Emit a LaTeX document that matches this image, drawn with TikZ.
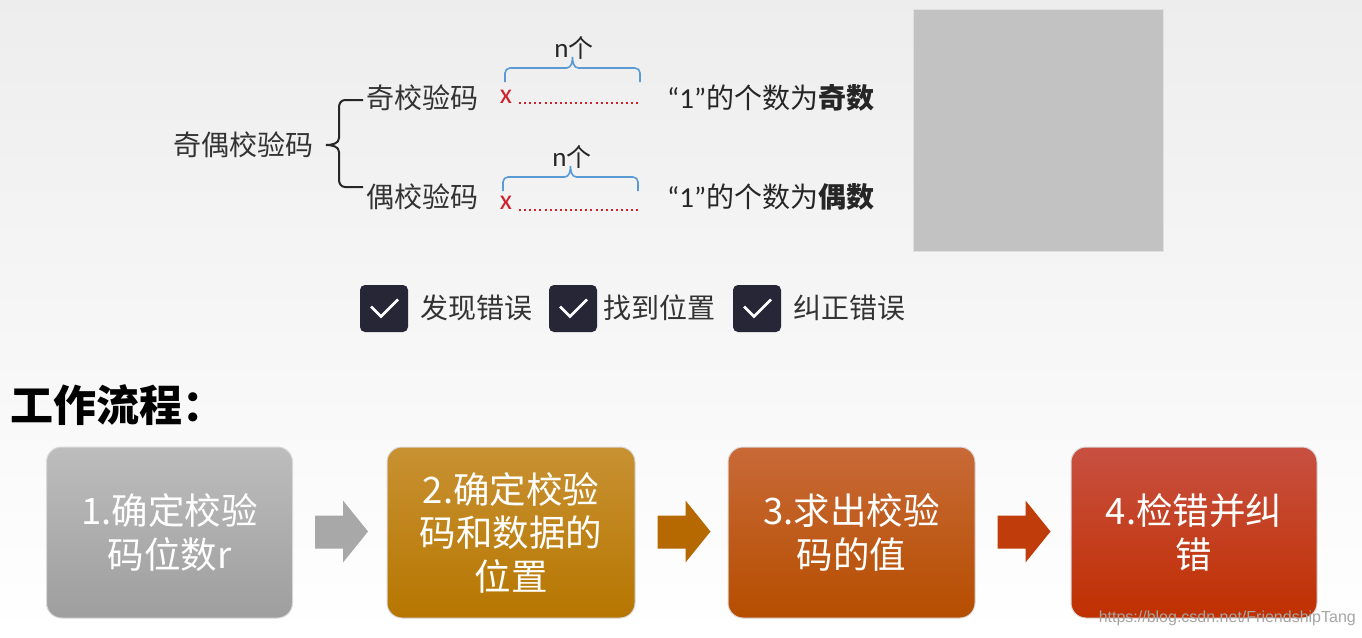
\documentclass[tikz,border=0pt]{standalone}
\usepackage{fontspec}
\setmainfont{Noto Sans CJK SC}
\newfontfamily\lat{Carlito}
\newfontfamily\wmfont{Liberation Sans}
\usetikzlibrary{calc}
\definecolor{ckbg}{HTML}{262637}
\definecolor{bracebl}{HTML}{5B9BD5}
\definecolor{redx}{HTML}{D0202A}
\definecolor{goldtop}{RGB}{200,145,50}
\definecolor{goldbot}{RGB}{182,118,0}
\definecolor{orgtop}{RGB}{200,105,55}
\definecolor{orgbot}{RGB}{182,78,0}
\definecolor{redtop}{RGB}{200,80,65}
\definecolor{redbot}{RGB}{192,48,0}
\definecolor{arrA}{RGB}{168,168,168}
\definecolor{arrB}{RGB}{182,105,0}
\definecolor{arrC}{RGB}{192,60,10}
\tikzset{
  lbl/.style={inner sep=0pt, font=\fontsize{28}{30}\selectfont, text=black!80},
  ckbox/.style={fill=ckbg, rounded corners=5pt, minimum width=48pt, minimum height=47pt, inner sep=0pt},
  ckmark/.style={white, line width=2.6pt},
  flowbox/.style={rounded corners=15pt, minimum width=246pt, minimum height=171pt, inner sep=0pt,
    align=center, text=white, font=\fontsize{36.5}{43.5}\selectfont, draw=white!70!gray, line width=1pt},
  bline/.style={draw=bracebl, line width=1.6pt},
  reddots/.style={redx, line width=2pt, dash pattern=on 2pt off 3.1pt},
}
\begin{document}
\begin{tikzpicture}[x=1pt,y=-1pt]
\useasboundingbox (0,0) rectangle (1362,637);
\shade[top color=black!7, bottom color=white] (0,0) rectangle (1362,637);

% gray rectangle
\node[fill=black!24, draw=black!12, line width=1pt, minimum width=250pt, minimum height=242pt, inner sep=0pt] (img) at (1038,130) {};

% tree
\node[lbl, anchor=east] (par) at (314,145) {奇偶校验码};
\node[lbl, anchor=west] (odd) at (366,98) {奇校验码};
\node[lbl, anchor=west] (even) at (366,197) {偶校验码};
\draw[line width=2pt, black!85]
  ($(odd.west)+(-3,2)$) -- ++(-18,0) to[out=180,in=90] ++(-6,7)
  -- ($(par.east)+(25,-7)$) to[out=-90,in=0] ($(par.east)+(12,0)$)
  to[out=0,in=90] ($(par.east)+(25,7)$)
  -- ($(even.west)+(-27,-17)$) to[out=-90,in=180] ++(6,7) -- ++(18,0);

% odd row
\node[inner sep=0pt, text=redx, font=\lat\fontsize{28}{30}\selectfont] (x1) at (506,97) {x};
\coordinate (d1s) at (519,103);
\coordinate (d1e) at (641,103);
\draw[reddots] (d1s) -- (d1e);
\coordinate (b1s) at (505,82);
\coordinate (b1e) at (640,82);
\coordinate (b1m) at ($(b1s)!.5!(b1e)$);
\draw[bline] (b1s) -- ++(0,-9) to[out=90,in=180] ++(5,-5) -- ($(b1m)+(-6,-14)$)
  to[out=0,in=-90] ($(b1m)+(0,-25)$) to[out=-90,in=180] ($(b1m)+(6,-14)$)
  -- ($(b1e)+(-5,-14)$) to[out=0,in=90] ($(b1e)+(0,-9)$) -- (b1e);
\node[inner sep=0pt, font=\fontsize{25}{27}\selectfont, text=black!85] (n1) at (574,48) {{\lat\fontsize{27}{27}\selectfont n}个};
\node[lbl, anchor=west, text=black!85] (r1) at (667,98) {{\lat\fontsize{29}{30}\selectfont “1”}的个数为\textbf{奇数}};

% even row
\node[inner sep=0pt, text=redx, font=\lat\fontsize{28}{30}\selectfont] (x2) at (506,203) {x};
\coordinate (d2s) at (519,210);
\coordinate (d2e) at (641,210);
\draw[reddots] (d2s) -- (d2e);
\coordinate (b2s) at (503,191);
\coordinate (b2e) at (638,191);
\coordinate (b2m) at ($(b2s)!.5!(b2e)$);
\draw[bline] (b2s) -- ++(0,-9) to[out=90,in=180] ++(5,-5) -- ($(b2m)+(-6,-14)$)
  to[out=0,in=-90] ($(b2m)+(0,-25)$) to[out=-90,in=180] ($(b2m)+(6,-14)$)
  -- ($(b2e)+(-5,-14)$) to[out=0,in=90] ($(b2e)+(0,-9)$) -- (b2e);
\node[inner sep=0pt, font=\fontsize{25}{27}\selectfont, text=black!85] (n2) at (572,157) {{\lat\fontsize{27}{27}\selectfont n}个};
\node[lbl, anchor=west, text=black!85] (r2) at (667,197) {{\lat\fontsize{29}{30}\selectfont “1”}的个数为\textbf{偶数}};

% checkboxes
\foreach \n/\x/\t/\tx in {c1/384/发现错误/420, c2/573/找到位置/603, c3/757/纠正错误/793}{
  \node[ckbox] (\n) at (\x,308.5) {};
  \draw[ckmark] ($(\n.center)+(-13,-2)$) -- ($(\n.center)+(-3,8)$) -- ($(\n.center)+(14,-9)$);
  \node[lbl, anchor=west] (\n t) at (\tx,308) {\t};
}

% title
\node[inner sep=0pt, anchor=west, font=\bfseries\fontsize{43}{46}\selectfont, text=black] (ttl) at (10,405) {工作流程：};

% flow boxes
\node[flowbox, top color=black!26, bottom color=black!38] (f1) at (169.5,532.5) {1.确定校验\\码位数r};
\node[flowbox, minimum width=248pt, top color=goldtop, bottom color=goldbot] (f2) at (511,532.5) {2.确定校验\\码和数据的\\位置};
\node[flowbox, minimum width=247pt, top color=orgtop, bottom color=orgbot] (f3) at (851.5,532.5) {3.求出校验\\码的值};
\node[flowbox, top color=redtop, bottom color=redbot] (f4) at (1194,532.5) {4.检错并纠\\错};

% block arrows
\foreach \a/\c in {f1/arrA, f2/arrB, f3/arrC}{
  \fill[\c] ($(\a.east)+(22,-17)$) -- ($(\a.east)+(50,-17)$) -- ($(\a.east)+(50,-32)$)
    -- ($(\a.east)+(75,-1)$) -- ($(\a.east)+(50,30)$) -- ($(\a.east)+(50,16)$)
    -- ($(\a.east)+(22,16)$) -- cycle;
}

% watermark
\node[inner sep=0pt, anchor=east, font=\wmfont\fontsize{16}{18}\selectfont, text=black!35] (wm) at (1356,618) {https://blog.csdn.net/FriendshipTang};
\end{tikzpicture}
\end{document}
